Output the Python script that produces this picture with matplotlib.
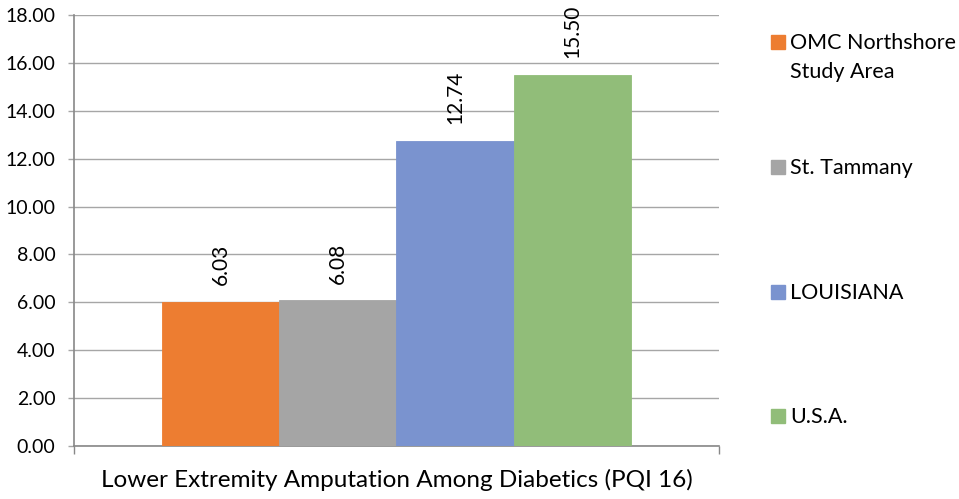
import matplotlib
matplotlib.use("Agg")
import matplotlib.pyplot as plt
from matplotlib.patches import Rectangle

# Lower extremity amputation rates by area
labels = ["OMC Northshore\nStudy Area", "St. Tammany", "LOUISIANA", "U.S.A."]
values = [6.03, 6.08, 12.74, 15.50]
colors = ["#ED7D31", "#A5A5A5", "#7A93CF", "#91BD79"]
category = "Lower Extremity Amputation Among Diabetics (PQI 16)"

plt.rcParams["font.family"] = ["Lato", "DejaVu Sans"]

W, H = 959, 499
fig = plt.figure(figsize=(W / 100, H / 100), dpi=100)
ax = fig.add_axes([0.0772, 0.1062, 0.6725, 0.8638])

xs = [i - 1.5 for i in range(len(values))]
bars = ax.bar(xs, values, width=1.0, color=colors, label=labels,
              edgecolor=colors, linewidth=0.6, zorder=3)

for b, v in zip(bars, values):
    ax.annotate("{:.2f}".format(v), (b.get_x() + b.get_width() / 2, v),
                xytext=(0, 12), textcoords="offset points",
                rotation=90, ha="center", va="bottom", fontsize=15)

ax.set_ylim(0, 18)
ax.set_yticks(range(0, 19, 2))
ax.set_yticklabels(["{:.2f}".format(t) for t in range(0, 19, 2)], fontsize=14)
ax.set_xlim(-2.75, 2.75)
ax.set_xticks([-2.75, 2.75])
ax.set_xticklabels(["", ""])
ax.tick_params(axis="x", length=6, color="#888888", width=1)
ax.tick_params(axis="y", length=4.5, color="#A6A6A6", width=1, pad=9)
ax.set_xlabel(category, fontsize=17.5, labelpad=7)

ax.grid(axis="y", color="#A6A6A6", linewidth=1, zorder=0)
for s in ["top", "right"]:
    ax.spines[s].set_visible(False)
ax.spines["left"].set_color("#888888")
ax.spines["bottom"].set_color("#888888")
ax.spines["left"].set_linewidth(1.2)
ax.spines["bottom"].set_linewidth(1.2)

# legend laid out by hand, Excel style (baselines in pixels from top)
leg_base = [49, 174, 299, 423]
for lab, col, yb in zip(labels, colors, leg_base):
    fig.patches.append(Rectangle((771 / W, 1 - yb / H), 14 / W, 14 / H,
                                 transform=fig.transFigure, color=col))
    for k, line in enumerate(lab.split("\n")):
        fig.text(790 / W, 1 - (yb + 29 * k) / H, line, fontsize=15.5,
                 va="baseline", ha="left")

fig.savefig("out.png", dpi=100)
